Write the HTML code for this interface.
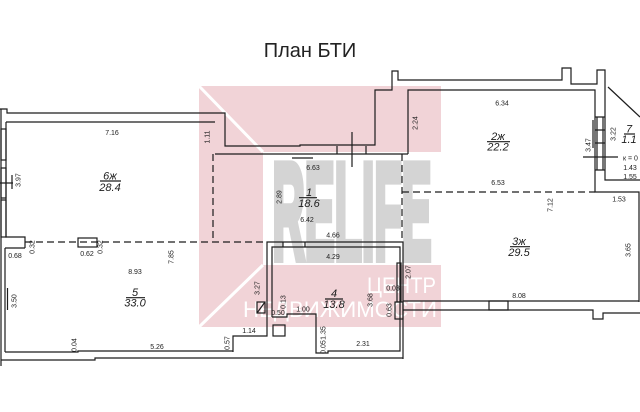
<!DOCTYPE html>
<html><head><meta charset="utf-8"><style>
html,body{margin:0;padding:0;background:#fff;}
svg{display:block;}
.l{fill:none;stroke:#1c1c1c;stroke-width:1.2;}
.d{fill:none;stroke:#1c1c1c;stroke-width:1.2;stroke-dasharray:7 4;}
.t{font-family:"Liberation Sans",sans-serif;font-size:7px;fill:#1c1c1c;text-anchor:middle;}
.r{font-family:"Liberation Sans",sans-serif;font-size:11px;font-style:italic;fill:#1c1c1c;text-anchor:middle;}
</style></head><body>
<svg width="640" height="412" viewBox="0 0 640 412" xmlns="http://www.w3.org/2000/svg">
<rect width="640" height="412" fill="#fff"/>
<text x="310" y="57" font-family="'Liberation Sans',sans-serif" font-size="20" fill="#222" text-anchor="middle">План БТИ</text>

<!-- watermark -->
<rect x="199" y="86" width="242" height="241" fill="#f1d3d7"/>
<rect x="263" y="152" width="178" height="113" fill="#fff"/>
<line x1="199" y1="86" x2="263" y2="152" stroke="#fff" stroke-width="3"/>
<line x1="199" y1="327" x2="263" y2="265" stroke="#fff" stroke-width="3"/>
<text x="272.5" y="258.5" font-family="'Liberation Sans',sans-serif" font-weight="bold" font-size="136" fill="#d4d4d4" stroke="#d4d4d4" stroke-width="9" stroke-linejoin="miter" textLength="159" lengthAdjust="spacingAndGlyphs">RELIFE</text>
<text x="367" y="293" font-family="'Liberation Sans',sans-serif" font-size="22" fill="#fff" textLength="69" lengthAdjust="spacingAndGlyphs">ЦЕНТР</text>
<text x="243" y="317" font-family="'Liberation Sans',sans-serif" font-size="22" fill="#fff" textLength="194" lengthAdjust="spacingAndGlyphs">НЕДВИЖИМОСТИ</text>

<!-- outer top walls -->
<path class="l" d="M0,109 H7 V113 H225 V146 H300 V145 H375 V90 H392 V71 H398 V80 H562 V68 H571 V84 H597 V70 H605 V180 H640"/>
<line class="l" x1="608" y1="87" x2="640" y2="117"/>
<!-- room 6 top inner -->
<path class="l" d="M6,122 H215"/>
<!-- left walls -->
<path class="l" d="M6,122 V237 H25 V248"/>
<path class="l" d="M1,109 V366"/>
<path class="l" d="M5,248 V352"/>
<rect class="l" x="1" y="129" width="5" height="31"/>
<rect class="l" x="1" y="168" width="5" height="30"/>
<rect class="l" x="1" y="200" width="5" height="37"/>
<path class="l" d="M0,183 H13 M12,175 V189"/>
<line class="l" x1="7.5" y1="288" x2="7.5" y2="310"/>
<path class="l" d="M5,248 H25"/>
<!-- room 1 top -->
<path class="l" d="M215,154 H408 M337,146 V154 M366,146 V154 M352,132 V167 M292,158 H313"/>
<!-- room 2 -->
<path class="l" d="M408,154 V90 H595 V192 H639 V302"/>
<!-- stair -->
<path class="l" d="M597,117 V170 M603,117 V170 M595,117 H605 M595,130 H605 M595,143 H605 M595,157 H605 M595,170 H605 M593,120 V148 M583,157 H618"/>
<!-- dashed -->
<path class="d" d="M213,154 V242"/>
<path class="d" d="M25,242 H267"/>
<path class="d" d="M402,154 V242"/>
<path class="d" d="M402,192 H595"/>
<rect class="l" x="78" y="238" width="19" height="9" fill="#fff"/>
<!-- room 3 bottom -->
<path class="l" d="M403,301 H639"/>
<path class="l" d="M403,310 H593 V319 H603 V313 H640"/>
<rect class="l" x="489" y="301" width="19" height="9" fill="#fff"/>
<!-- room 4 -->
<path class="l" d="M233,352 V336 H267 V242 H403 V359"/>
<path class="l" d="M272,317 V247 H400 V351 H328 V353 H316 V314 H287 V317 H272"/>
<path class="l" d="M283,242 V247 M305,242 V247"/>
<rect class="l" x="397" y="263" width="4" height="39" fill="#fff"/>
<rect class="l" x="395" y="302" width="8" height="17" fill="#fff"/>
<rect class="l" x="273" y="325" width="12" height="11"/>
<rect class="l" x="257" y="302" width="8" height="11"/>
<line class="l" x1="257" y1="313" x2="265" y2="302"/>
<!-- room 5 bottom -->
<path class="l" d="M5,352 H78 V351 H233"/>
<path class="l" d="M1,360 H95 V358 H403"/>

<!-- dimension labels -->
<text class="t" x="112" y="135">7.16</text>
<text class="t" transform="translate(20.5,180) rotate(-90)">3.97</text>
<text class="t" transform="translate(209.5,137) rotate(-90)">1.11</text>
<text class="r" x="110" y="179.5">6ж</text>
<line class="l" x1="100" y1="181" x2="121" y2="181"/>
<text class="r" x="110" y="191">28.4</text>

<text class="t" x="15" y="258">0.68</text>
<text class="t" transform="translate(34.5,247) rotate(-90)">0.32</text>
<text class="t" x="87" y="256">0.62</text>
<text class="t" transform="translate(102.5,247) rotate(-90)">0.32</text>
<text class="t" transform="translate(173.5,257) rotate(-90)">7.85</text>
<text class="t" x="135" y="274">8.93</text>
<text class="r" x="135" y="296">5</text>
<line class="l" x1="126" y1="297.7" x2="145" y2="297.7"/>
<text class="r" x="135" y="306.5">33.0</text>
<text class="t" transform="translate(16.5,301) rotate(-90)">3.50</text>
<text class="t" transform="translate(76.5,345) rotate(-90)">0.04</text>
<text class="t" x="157" y="349">5.26</text>

<text class="t" x="313" y="170">6.63</text>
<text class="t" transform="translate(281.5,197) rotate(-90)">2.89</text>
<text class="r" x="309" y="196">1</text>
<line class="l" x1="299" y1="197.7" x2="317" y2="197.7"/>
<text class="r" x="309" y="207">18.6</text>
<text class="t" x="307" y="222">6.42</text>
<text class="t" x="333" y="237.5">4.66</text>
<text class="t" x="333" y="259">4.29</text>

<text class="t" transform="translate(259.5,288) rotate(-90)">3.27</text>
<text class="t" transform="translate(285.5,302) rotate(-90)">0.13</text>
<text class="t" x="278" y="315">0.50</text>
<text class="t" x="303" y="311.5">1.00</text>
<text class="r" x="334" y="297">4</text>
<line class="l" x1="325" y1="299" x2="343" y2="299"/>
<text class="r" x="334" y="308">13.8</text>
<text class="t" transform="translate(372.5,300) rotate(-90)">3.68</text>
<text class="t" x="393" y="290.5">0.03</text>
<text class="t" transform="translate(391.5,310) rotate(-90)">0.63</text>
<text class="t" transform="translate(410.5,272) rotate(-90)">2.07</text>
<text class="t" x="249" y="333">1.14</text>
<text class="t" transform="translate(229.5,343) rotate(-90)">0.57</text>
<text class="t" transform="translate(325.5,333) rotate(-90)">1.35</text>
<text class="t" transform="translate(325.5,347) rotate(-90)">0.05</text>
<text class="t" x="363" y="346">2.31</text>

<text class="t" x="502" y="105.5">6.34</text>
<text class="t" transform="translate(417.5,123) rotate(-90)">2.24</text>
<text class="r" x="498" y="140">2ж</text>
<line class="l" x1="487" y1="141.7" x2="510" y2="141.7"/>
<text class="r" x="498" y="150.5">22.2</text>
<text class="t" x="498" y="185">6.53</text>
<text class="t" transform="translate(590.5,145) rotate(-90)">3.47</text>
<text class="t" transform="translate(615.5,134) rotate(-90)">3.22</text>
<text class="r" x="629" y="132.5">7</text>
<line class="l" x1="624" y1="134" x2="635" y2="134"/>
<text class="r" x="629" y="143">1.1</text>
<text class="t" x="623" y="160.5" style="text-anchor:start">к = 0</text>
<text class="t" x="630" y="170">1.43</text>
<text class="t" x="630" y="179">1.55</text>
<text class="t" x="619" y="201.5">1.53</text>
<text class="t" transform="translate(552.5,205) rotate(-90)">7.12</text>

<text class="r" x="519" y="245">3ж</text>
<line class="l" x1="510" y1="246.7" x2="530" y2="246.7"/>
<text class="r" x="519" y="256">29.5</text>
<text class="t" transform="translate(630.5,250) rotate(-90)">3.65</text>
<text class="t" x="519" y="298">8.08</text>
</svg>
</body></html>
